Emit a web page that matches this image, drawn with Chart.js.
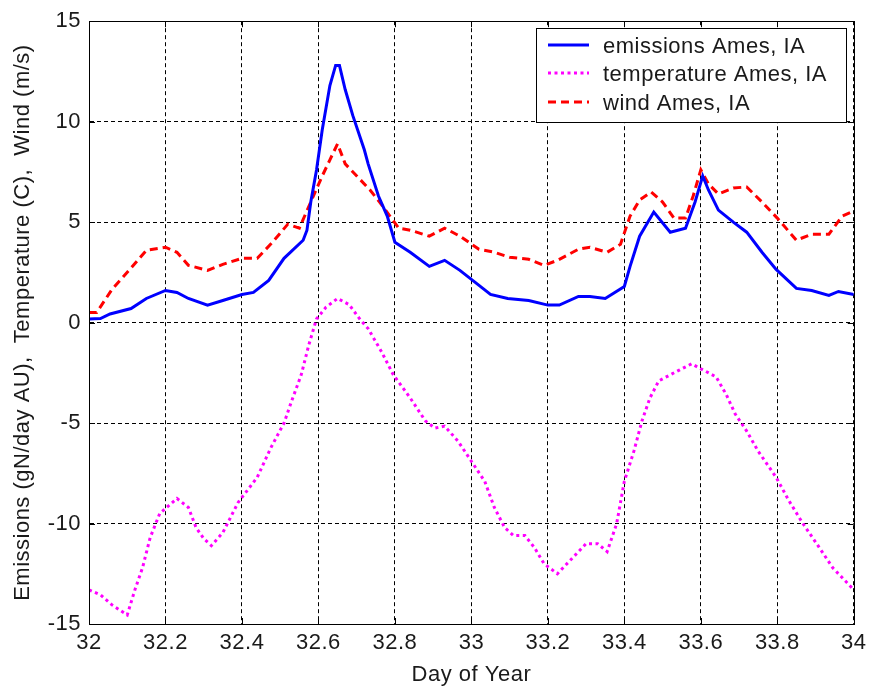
<!DOCTYPE html>
<html>
<head>
<meta charset="utf-8">
<script src="https://cdn.jsdelivr.net/npm/chart.js@4/dist/chart.umd.min.js"></script>
<style>
  html, body { margin: 0; padding: 0; background: #ffffff; }
  #wrap { width: 872px; height: 688px; }
</style>
</head>
<body>
<div id="wrap"><canvas id="c" width="872" height="688"></canvas></div>
<script>
// ---- data ----
const seriesLabels = ['emissions Ames, IA', 'temperature Ames, IA', 'wind Ames, IA'];

const emisDay = [32.0, 32.03, 32.055, 32.11, 32.15, 32.2, 32.23, 32.26, 32.31, 32.35, 32.4, 32.43, 32.47, 32.51, 32.56, 32.57, 32.58, 32.595, 32.61, 32.63, 32.645, 32.655, 32.67, 32.69, 32.72, 32.73, 32.757, 32.78, 32.80, 32.84, 32.89, 32.93, 32.97, 33.01, 33.05, 33.095, 33.15, 33.2, 33.23, 33.28, 33.31, 33.35, 33.40, 33.415, 33.44, 33.477, 33.52, 33.56, 33.585, 33.605, 33.62, 33.646, 33.685, 33.72, 33.76, 33.797, 33.85, 33.89, 33.935, 33.96, 34.0];
const emisVal = [0.18, 0.2, 0.43, 0.7, 1.2, 1.6, 1.5, 1.2, 0.87, 1.1, 1.4, 1.5, 2.1, 3.2, 4.1, 4.6, 6.0, 7.6, 9.6, 11.8, 12.8, 12.8, 11.6, 10.3, 8.6, 7.9, 6.3, 5.3, 4.0, 3.5, 2.8, 3.1, 2.6, 2.0, 1.4, 1.2, 1.1, 0.87, 0.87, 1.3, 1.3, 1.2, 1.8, 2.8, 4.3, 5.5, 4.5, 4.7, 6.0, 7.3, 6.6, 5.6, 5.0, 4.5, 3.5, 2.65, 1.7, 1.6, 1.35, 1.55, 1.4];

const tempDay = [32.0, 32.03, 32.06, 32.1, 32.12, 32.14, 32.16, 32.185, 32.23, 32.26, 32.28, 32.3, 32.32, 32.35, 32.39, 32.44, 32.475, 32.51, 32.53, 32.555, 32.575, 32.595, 32.62, 32.65, 32.68, 32.71, 32.73, 32.765, 32.796, 32.84, 32.88, 32.905, 32.93, 32.965, 33.0, 33.035, 33.06, 33.087, 33.11, 33.14, 33.165, 33.19, 33.225, 33.26, 33.30, 33.33, 33.355, 33.38, 33.40, 33.425, 33.446, 33.467, 33.49, 33.545, 33.576, 33.60, 33.64, 33.667, 33.69, 33.72, 33.75, 33.797, 33.83, 33.867, 33.91, 33.945, 34.0];
const tempVal = [-13.3, -13.55, -14.05, -14.55, -13.3, -12.2, -10.7, -9.5, -8.75, -9.2, -10.2, -10.75, -11.1, -10.45, -8.95, -7.7, -6.25, -5.0, -3.9, -2.6, -1.1, 0.18, 0.77, 1.2, 0.9, 0.13, -0.3, -1.45, -2.6, -3.75, -4.9, -5.25, -5.15, -5.9, -6.9, -7.9, -9.2, -10.2, -10.6, -10.6, -11.2, -12.0, -12.5, -11.8, -11.0, -11.0, -11.4, -10.0, -7.9, -6.4, -4.9, -3.75, -2.9, -2.35, -2.05, -2.3, -2.7, -3.6, -4.55, -5.4, -6.4, -7.7, -8.85, -10.0, -11.2, -12.2, -13.3];

const windDay = [32.0, 32.02, 32.06, 32.107, 32.15, 32.2, 32.23, 32.26, 32.31, 32.35, 32.4, 32.44, 32.48, 32.52, 32.55, 32.58, 32.61, 32.63, 32.65, 32.67, 32.71, 32.735, 32.76, 32.81, 32.84, 32.89, 32.93, 32.97, 33.02, 33.06, 33.10, 33.15, 33.19, 33.225, 33.28, 33.31, 33.355, 33.39, 33.415, 33.44, 33.47, 33.50, 33.53, 33.56, 33.58, 33.60, 33.62, 33.646, 33.685, 33.72, 33.76, 33.80, 33.85, 33.89, 33.935, 33.97, 34.0];
const windVal = [0.5, 0.5, 1.65, 2.65, 3.6, 3.75, 3.5, 2.85, 2.6, 2.9, 3.2, 3.2, 4.0, 4.9, 4.7, 6.0, 7.3, 8.1, 8.9, 7.9, 7.1, 6.6, 6.0, 4.7, 4.6, 4.3, 4.7, 4.3, 3.65, 3.5, 3.25, 3.15, 2.85, 3.1, 3.65, 3.75, 3.5, 3.9, 5.3, 6.1, 6.5, 6.0, 5.2, 5.2, 6.3, 7.6, 6.9, 6.4, 6.7, 6.75, 6.0, 5.2, 4.1, 4.4, 4.4, 5.3, 5.55];

const xTickLabels = ['32', '32.2', '32.4', '32.6', '32.8', '33', '33.2', '33.4', '33.6', '33.8', '34'];
const yTickLabels = ['-15', '-10', '-5', '0', '5', '10', '15'];
const xTitle = 'Day of Year';
const yTitle = 'Emissions (gN/day AU),  Temperature (C),  Wind (m/s)';

// ---- chart ----
const FONT = "'Liberation Sans', Arial, Helvetica, sans-serif";
const TXT = '#1a1a1a';
const pts = (xs, ys) => xs.map((x, i) => ({ x: x, y: ys[i] }));

const spacingPlugin = {
  id: 'spacing',
  beforeDraw(chart) { chart.ctx.letterSpacing = '0.5px'; }
};

const framePlugin = {
  id: 'frame',
  afterDatasetsDraw(chart) {
    const { ctx, chartArea: a, scales } = chart;
    ctx.save();
    ctx.setLineDash([]);
    ctx.strokeStyle = '#000';
    ctx.lineWidth = 1;
    const tl = 6;
    ctx.beginPath();
    scales.x.ticks.forEach(t => {
      const px = Math.round(scales.x.getPixelForValue(t.value)) + 0.5;
      ctx.moveTo(px, a.bottom); ctx.lineTo(px, a.bottom - tl);
      ctx.moveTo(px, a.top); ctx.lineTo(px, a.top + tl);
    });
    scales.y.ticks.forEach(t => {
      const py = Math.round(scales.y.getPixelForValue(t.value)) + 0.5;
      ctx.moveTo(a.left, py); ctx.lineTo(a.left + tl, py);
      ctx.moveTo(a.right, py); ctx.lineTo(a.right - tl, py);
    });
    ctx.stroke();
    ctx.strokeRect(Math.round(a.left) + 0.5, Math.round(a.top) + 0.5,
                   Math.round(a.right - a.left), Math.round(a.bottom - a.top));
    ctx.restore();
  },
  afterDraw(chart) {
    // legend box inside plot area (top right)
    const { ctx } = chart;
    const bx = 536.5, by = 28.5, bw = 310, bh = 94;
    ctx.save();
    ctx.fillStyle = '#fff';
    ctx.fillRect(bx, by, bw, bh);
    ctx.strokeStyle = '#000';
    ctx.lineWidth = 1;
    ctx.setLineDash([]);
    ctx.strokeRect(bx, by, bw, bh);
    const rows = [45, 73, 102];
    chart.data.datasets.forEach((ds, i) => {
      const y = rows[i];
      ctx.beginPath();
      ctx.strokeStyle = ds.borderColor;
      ctx.lineWidth = ds.borderWidth;
      ctx.setLineDash(ds.borderDash || []);
      ctx.moveTo(548, y); ctx.lineTo(589, y);
      ctx.stroke();
      ctx.setLineDash([]);
      ctx.fillStyle = TXT;
      ctx.font = '22px ' + FONT;
      ctx.letterSpacing = '0.5px';
      ctx.textBaseline = 'middle';
      ctx.textAlign = 'left';
      ctx.fillText(ds.label, 603, y + 2);
    });
    ctx.restore();
  }
};

new Chart(document.getElementById('c'), {
  type: 'line',
  data: {
    datasets: [
      { label: seriesLabels[0], data: pts(emisDay, emisVal), borderColor: '#0000ff', borderWidth: 3, borderDash: [], pointRadius: 0, tension: 0, fill: false },
      { label: seriesLabels[1], data: pts(tempDay, tempVal), borderColor: '#ff00ff', borderWidth: 3, borderDash: [3, 3.5], pointRadius: 0, tension: 0, fill: false },
      { label: seriesLabels[2], data: pts(windDay, windVal), borderColor: '#ff0000', borderWidth: 3, borderDash: [8, 5], pointRadius: 0, tension: 0, fill: false }
    ]
  },
  options: {
    responsive: false,
    animation: false,
    devicePixelRatio: 1,
    layout: { padding: { top: 17, right: 14, left: 0, bottom: 0 } },
    plugins: { legend: { display: false }, tooltip: { enabled: false } },
    scales: {
      x: {
        type: 'linear', min: 32, max: 34,
        afterFit(s) { s.height = 64; },
        ticks: {
          stepSize: 0.2, autoSkip: false, maxRotation: 0, padding: 6,
          color: TXT, font: { family: FONT, size: 22 },
          callback: (v, i) => xTickLabels[i]
        },
        grid: { color: '#000', lineWidth: 1, drawTicks: false },
        border: { display: true, color: '#000', dash: [4, 3] },
        title: { display: true, text: xTitle, color: TXT, font: { family: FONT, size: 22 }, padding: { top: 0, bottom: 0 } }
      },
      y: {
        type: 'linear', min: -15, max: 15,
        afterFit(s) { s.width = 89; },
        ticks: {
          stepSize: 5, padding: 8,
          color: TXT, font: { family: FONT, size: 22 },
          callback: (v, i) => yTickLabels[i]
        },
        grid: { color: '#000', lineWidth: 1, drawTicks: false },
        border: { display: true, color: '#000', dash: [4, 3] },
        title: { display: true, text: yTitle, color: TXT, font: { family: FONT, size: 22 }, padding: { top: 10, bottom: 0 } }
      }
    }
  },
  plugins: [spacingPlugin, framePlugin]
});
</script>
</body>
</html>
